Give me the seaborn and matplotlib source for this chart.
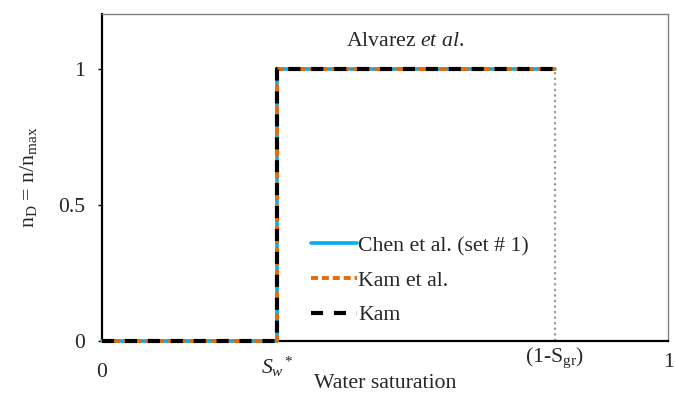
import matplotlib
matplotlib.use("Agg")
import matplotlib.pyplot as plt
import matplotlib.transforms as mtransforms
import seaborn as sns
import pandas as pd

# Step profile of the normalised foam texture
sw = [0.0, 0.31, 0.31, 0.80]
n_d = [0.0, 0.0, 1.0, 1.0]
sw_star = 0.31
sw_max = 0.80

series_labels = ["Chen et al. (set # 1)", "Kam et al.", "Kam"]
series_colors = ["#00B0F0", "#E46C0A", "#000000"]

y_ticks = [0, 0.5, 1]
y_tick_labels = ["0", "0.5", "1"]

sns.set_theme(style="white")
plt.rcParams["font.family"] = ["Liberation Serif", "DejaVu Serif"]
plt.rcParams["mathtext.fontset"] = "custom"
plt.rcParams["mathtext.rm"] = "Liberation Serif"
plt.rcParams["mathtext.it"] = "Liberation Serif:italic"

FS = 15.7

fig = plt.figure(figsize=(6.75, 3.93), dpi=100)
ax = fig.add_axes([0.151, 0.132, 0.839, 0.832])

frames = []
for lab in series_labels:
    frames.append(pd.DataFrame({"sw": sw, "nD": n_d, "model": lab}))
df = pd.concat(frames, ignore_index=True)

styles = {
    "Chen et al. (set # 1)": dict(lw=2.6, ls="-"),
    "Kam et al.": dict(lw=2.8, dashes=(1.8, 1.0)),
    "Kam": dict(lw=3.0, dashes=(2.9, 2.6)),
}
for lab, col in zip(series_labels, series_colors):
    st = styles[lab]
    kw = {"linewidth": st["lw"]}
    if "dashes" in st:
        kw["linestyle"] = (0, st["dashes"])
    sns.lineplot(data=df[df["model"] == lab], x="sw", y="nD", estimator=None,
                 sort=False, color=col, label=lab, ax=ax, clip_on=False,
                 zorder=3, **kw)

# residual gas saturation marker
ax.plot([sw_max, sw_max], [0, 1], color="#999999", lw=1.6, ls=(0, (1, 1.5)), zorder=1)

ax.set_xlim(0, 1)
ax.set_ylim(0, 1.2)
ax.set_xticks([])
ax.set_yticks(y_ticks)
ax.set_yticklabels(y_tick_labels, fontsize=FS)
ax.tick_params(axis="y", which="both", left=True, length=3, width=1, color="black", pad=9)
ax.set_xlabel("")
ax.set_ylabel(r"n$_{\rm D}$ = n/n$_{\rm max}$", fontsize=FS, labelpad=14)

for side in ("left", "bottom"):
    ax.spines[side].set_color("black")
    ax.spines[side].set_linewidth(1.6)
for side in ("top", "right"):
    ax.spines[side].set_color("#808080")
    ax.spines[side].set_linewidth(1.0)

trans = mtransforms.blended_transform_factory(ax.transData, ax.transAxes)
ax.text(0.0, -0.095, "0", transform=trans, ha="center", va="center", fontsize=FS)
ax.text(sw_star, -0.078, r"$S_w$$^*$", transform=trans, ha="center", va="center", fontsize=FS)
ax.text(sw_max, -0.05, r"(1-S$_{\rm gr}$)", transform=trans, ha="center", va="center", fontsize=FS)
ax.text(1.0, -0.065, "1", transform=trans, ha="center", va="center", fontsize=FS)
ax.text(0.5, -0.13, "Water saturation", transform=ax.transAxes, ha="center", va="center", fontsize=FS)

ax.text(0.535, 0.915, r"Alvarez $\mathit{et\ al}$.", transform=ax.transAxes,
        ha="center", va="center", fontsize=FS)

leg = ax.legend(loc="upper left", bbox_to_anchor=(0.37, 0.322), frameon=False,
                fontsize=FS, handlelength=2.1, handletextpad=0.05,
                labelspacing=0.66, borderpad=0, borderaxespad=0)

fig.savefig("out.png", dpi=100)
